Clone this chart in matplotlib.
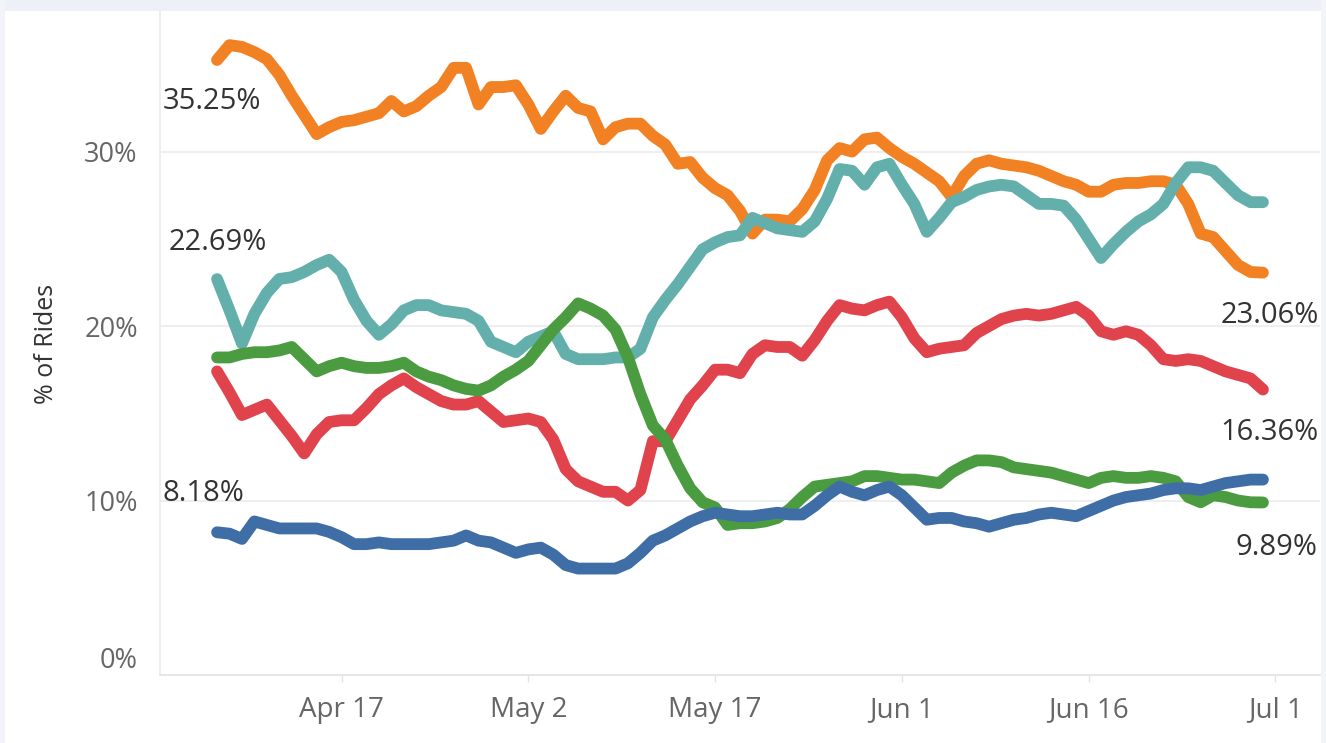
import matplotlib
matplotlib.use("Agg")
import matplotlib.pyplot as plt
import matplotlib.dates as mdates
from matplotlib.ticker import FuncFormatter
import datetime as dt

# ---------------------------------------------------------------
# Daily share of rides (%), Apr 7 - Jun 30
# ---------------------------------------------------------------
START = dt.datetime(2019, 4, 7)
N_DAYS = 85
dates = [START + dt.timedelta(days=i) for i in range(N_DAYS)]

orange = [35.25, 36.1, 36.0, 35.7, 35.3, 34.4, 33.2, 32.1, 31.0, 31.4,
          31.7, 31.8, 32.0, 32.2, 32.9, 32.3, 32.6, 33.2, 33.7, 34.8,
          34.8, 32.7, 33.7, 33.7, 33.8, 32.7, 31.3, 32.3, 33.2, 32.5,
          32.3, 30.7, 31.4, 31.6, 31.6, 30.9, 30.4, 29.3, 29.4, 28.5,
          27.9, 27.5, 26.6, 25.3, 26.1, 26.1, 26.0, 26.7, 27.8, 29.5,
          30.2, 30.0, 30.7, 30.8, 30.2, 29.7, 29.3, 28.8, 28.3, 27.4,
          28.6, 29.3, 29.5, 29.3, 29.2, 29.1, 28.9, 28.6, 28.3, 28.1,
          27.7, 27.7, 28.1, 28.2, 28.2, 28.3, 28.3, 28.1, 27.0, 25.3,
          25.1, 24.3, 23.5, 23.1, 23.06]

teal = [22.69, 20.9, 19.0, 20.7, 21.9, 22.7, 22.8, 23.1, 23.5, 23.8,
        23.1, 21.5, 20.3, 19.5, 20.1, 20.9, 21.2, 21.2, 20.9, 20.8,
        20.7, 20.3, 19.1, 18.8, 18.5, 19.1, 19.4, 19.7, 18.4, 18.1,
        18.1, 18.1, 18.2, 18.2, 18.7, 20.5, 21.5, 22.4, 23.4, 24.4,
        24.8, 25.1, 25.2, 26.2, 25.9, 25.6, 25.5, 25.4, 26.0, 27.3,
        29.0, 28.9, 28.1, 29.1, 29.3, 28.1, 27.0, 25.4, 26.2, 27.1,
        27.4, 27.8, 28.0, 28.1, 28.0, 27.5, 27.0, 27.0, 26.9, 26.1,
        25.0, 23.9, 24.7, 25.4, 26.0, 26.4, 27.0, 28.2, 29.1, 29.1,
        28.9, 28.2, 27.5, 27.1, 27.1]

green = [18.2, 18.2, 18.4, 18.5, 18.5, 18.6, 18.8, 18.1, 17.4, 17.7,
         17.9, 17.7, 17.6, 17.6, 17.7, 17.9, 17.4, 17.1, 16.9, 16.6,
         16.4, 16.3, 16.6, 17.1, 17.5, 18.0, 18.9, 19.8, 20.5, 21.3,
         21.0, 20.6, 19.8, 18.2, 16.1, 14.3, 13.5, 12.0, 10.7, 9.9,
         9.6, 8.6, 8.7, 8.7, 8.8, 9.0, 9.5, 10.2, 10.8, 10.9,
         11.0, 11.1, 11.4, 11.4, 11.3, 11.2, 11.2, 11.1, 11.0, 11.6,
         12.0, 12.3, 12.3, 12.2, 11.9, 11.8, 11.7, 11.6, 11.4, 11.2,
         11.0, 11.3, 11.4, 11.3, 11.3, 11.4, 11.3, 11.1, 10.2, 9.9,
         10.3, 10.2, 10.0, 9.9, 9.89]

red = [17.4, 16.2, 14.9, 15.2, 15.5, 14.6, 13.7, 12.7, 13.8, 14.5,
       14.6, 14.6, 15.3, 16.1, 16.6, 17.0, 16.5, 16.1, 15.7, 15.5,
       15.5, 15.7, 15.1, 14.5, 14.6, 14.7, 14.5, 13.5, 11.8, 11.1,
       10.8, 10.5, 10.5, 10.0, 10.6, 13.4, 13.4, 14.6, 15.8, 16.6,
       17.5, 17.5, 17.3, 18.4, 18.9, 18.8, 18.8, 18.3, 19.2, 20.3,
       21.2, 21.0, 20.9, 21.2, 21.4, 20.5, 19.3, 18.5, 18.7, 18.8,
       18.9, 19.6, 20.0, 20.4, 20.6, 20.7, 20.6, 20.7, 20.9, 21.1,
       20.6, 19.7, 19.5, 19.7, 19.5, 18.9, 18.1, 18.0, 18.1, 18.0,
       17.7, 17.4, 17.2, 17.0, 16.36]

blue = [8.18, 8.1, 7.8, 8.8, 8.6, 8.4, 8.4, 8.4, 8.4, 8.2,
        7.9, 7.5, 7.5, 7.6, 7.5, 7.5, 7.5, 7.5, 7.6, 7.7,
        8.0, 7.7, 7.6, 7.3, 7.0, 7.2, 7.3, 6.9, 6.3, 6.1,
        6.1, 6.1, 6.1, 6.4, 7.0, 7.7, 8.0, 8.4, 8.8, 9.1,
        9.3, 9.2, 9.1, 9.1, 9.2, 9.3, 9.2, 9.2, 9.7, 10.3,
        10.8, 10.5, 10.3, 10.6, 10.8, 10.3, 9.6, 8.9, 9.0, 9.0,
        8.8, 8.7, 8.5, 8.7, 8.9, 9.0, 9.2, 9.3, 9.2, 9.1,
        9.4, 9.7, 10.0, 10.2, 10.3, 10.4, 10.6, 10.7, 10.7, 10.6,
        10.8, 11.0, 11.1, 11.2, 11.2]

SERIES = [
    ("orange", orange, "#F28124"),
    ("teal", teal, "#63AFAC"),
    ("red", red, "#E0434C"),
    ("green", green, "#4B9C40"),
    ("blue", blue, "#3F6DA6"),
]

# start / end labels: (series, offset in pixels)
START_LABELS = [(orange, (-5, -42)), (teal, (1, 37)), (blue, (-14, 39))]
END_LABELS = [(orange, (7, -43)), (red, (7, -43)), (green, (14, -45))]

TICK_COLOR = "#666666"
LABEL_COLOR = "#333333"
GRID_COLOR = "#EBEBEB"

plt.rcParams["font.family"] = ["Open Sans", "DejaVu Sans"]

fig = plt.figure(figsize=(13.26, 7.43), dpi=100, facecolor="white")

# light frame along the top and sides
fig.patches.append(plt.Rectangle((0, 1 - 11 / 743), 1, 11 / 743, transform=fig.transFigure,
                                 facecolor="#EEF0F7", edgecolor="none", zorder=0))
fig.patches.append(plt.Rectangle((0, 0), 5 / 1326, 1, transform=fig.transFigure,
                                 facecolor="#F2F4FA", edgecolor="none", zorder=0))
fig.patches.append(plt.Rectangle((1 - 5 / 1326, 0), 5 / 1326, 1, transform=fig.transFigure,
                                 facecolor="#F2F4FA", edgecolor="none", zorder=0))

ax = fig.add_axes([160 / 1326, (743 - 675) / 743, 1160 / 1326, (675 - 12) / 743])
ax.set_facecolor("white")

for name, vals, color in SERIES:
    ax.plot(dates, vals, color=color, linewidth=8.5,
            solid_capstyle="round", solid_joinstyle="round", zorder=3)

ax.set_ylim(0, 38)
ax.set_xlim(dt.datetime(2019, 4, 2, 10), dt.datetime(2019, 7, 4, 14))

ax.set_yticks([0, 10, 20, 30])
ax.yaxis.set_major_formatter(FuncFormatter(lambda v, _: f"{v:.0f}%"))
ax.set_xticks([dt.datetime(2019, 4, 17), dt.datetime(2019, 5, 2), dt.datetime(2019, 5, 17),
               dt.datetime(2019, 6, 1), dt.datetime(2019, 6, 16), dt.datetime(2019, 7, 1)])
ax.xaxis.set_major_formatter(mdates.DateFormatter("%b %-d"))

ax.grid(axis="y", color=GRID_COLOR, linewidth=1.2, zorder=0)
ax.set_axisbelow(True)

for side in ["top", "right"]:
    ax.spines[side].set_visible(False)
ax.spines["left"].set_color(GRID_COLOR)
ax.spines["bottom"].set_color("#E3E3E3")
ax.spines["left"].set_linewidth(1.2)
ax.spines["bottom"].set_linewidth(1.2)

ax.tick_params(axis="y", length=0, pad=16, labelsize=19.5, labelcolor=TICK_COLOR)
ax.tick_params(axis="x", length=5, width=1, color="#E3E3E3", pad=10,
               labelsize=20, labelcolor=TICK_COLOR)

# pull the 0% label up off the baseline
for lbl in ax.get_yticklabels():
    if lbl.get_text() == "0%":
        lbl.set_verticalalignment("bottom")

ax.set_ylabel("% of Rides", fontsize=18, color=LABEL_COLOR, labelpad=18)

for vals, (dx, dy) in START_LABELS:
    ax.annotate(f"{vals[0]:.2f}%", xy=(dates[0], vals[0]), xytext=(dx, dy),
                textcoords="offset pixels", ha="center", va="center",
                fontsize=21, color=LABEL_COLOR, zorder=5)

for vals, (dx, dy) in END_LABELS:
    ax.annotate(f"{vals[-1]:.2f}%", xy=(dates[-1], vals[-1]), xytext=(dx, dy),
                textcoords="offset pixels", ha="center", va="center",
                fontsize=21, color=LABEL_COLOR, zorder=5)

fig.savefig("out.png", dpi=100, facecolor=fig.get_facecolor())
